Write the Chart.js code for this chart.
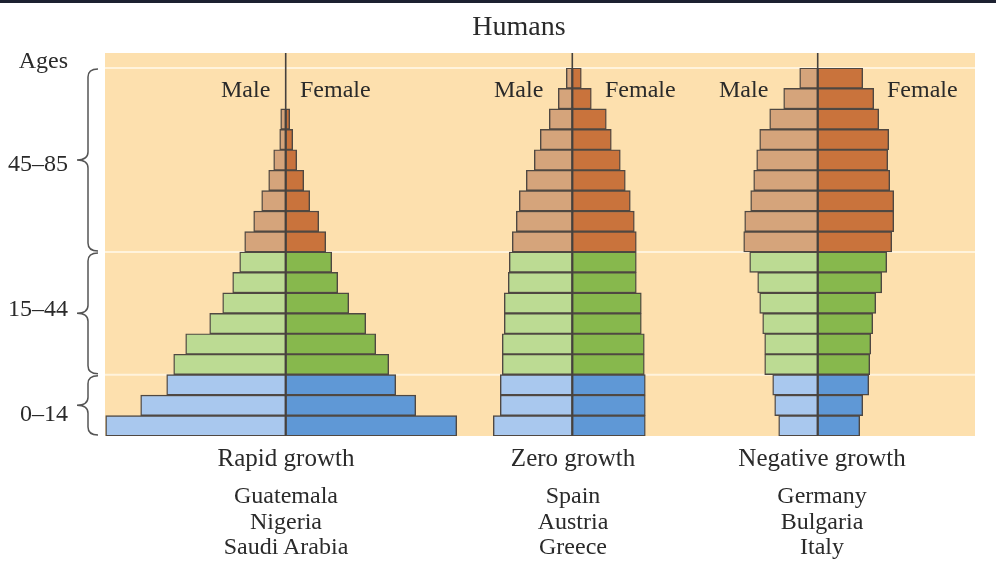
<!DOCTYPE html>
<html>
<head>
<meta charset="utf-8">
<script src="https://cdn.jsdelivr.net/npm/chart.js@4.4.1/dist/chart.umd.min.js"></script>
<style>
  body { margin: 0; background: #fff; }
  #wrap { position: relative; width: 996px; height: 568px; overflow: hidden; font-family: "Liberation Serif", "DejaVu Serif", serif; color: #2a2a2a; }
  #topbar { position: absolute; left: 0; top: 0; width: 996px; height: 3px; background: #1d2131; }
  canvas { position: absolute; left: 0; top: 0; }
  .t { position: absolute; white-space: nowrap; font-size: 24px; line-height: 26px; }
  .c { transform: translateX(-50%); text-align: center; }
  .r { transform: translateX(-100%); text-align: right; }
</style>
</head>
<body>
<div id="wrap">
  <canvas id="chart" width="996" height="568"></canvas>
  <div id="topbar"></div>
  <div id="labels"></div>
</div>
<script>
// вікові групи, знизу догори
const ageGroups = ['0–4', '5–9', '10–14', '15–19', '20–24', '25–29', '30–34', '35–39', '40–44',
  '45–49', '50–54', '55–59', '60–64', '65–69', '70–74', '75–79', '80–84', '85+'];

// ширини смуг (умовні одиниці), рядок 0 = наймолодші
const rapidMale = [180, 145, 119, 112, 100, 76, 63, 53, 46, 41, 32, 24, 17, 12, 6, 5, null, null];
const rapidFemale = [171, 130, 110, 103, 90, 80, 63, 52, 46, 40, 33, 24, 18, 11, 7, 4, null, null];
const zeroMale = [79, 72, 72, 70, 70, 68, 68, 64, 63, 60, 56, 53, 46, 38, 32, 23, 14, 6];
const zeroFemale = [73, 73, 73, 72, 72, 69, 69, 64, 64, 64, 62, 58, 53, 48, 39, 34, 19, 9];
const negMale = [39, 43, 45, 53, 53, 55, 58, 60, 68, 74, 73, 67, 64, 61, 58, 48, 34, 18];
const negFemale = [42, 45, 51, 52, 53, 55, 58, 64, 69, 74, 76, 76, 72, 70, 71, 61, 56, 45];

const pyramidNames = ['Rapid growth', 'Zero growth', 'Negative growth'];
const pyramidCountries = [
  ['Guatemala', 'Nigeria', 'Saudi Arabia'],
  ['Spain', 'Austria', 'Greece'],
  ['Germany', 'Bulgaria', 'Italy'],
];
const bracketLabels = ['0–14', '15–44', '45–85'];
const bracketRows = [[0, 2], [3, 8], [9, 17]];

// розкладка
const plotLeft = 105, plotRight = 975, plotTop = 68, plotBottom = 436;
const centers = [285.7, 572.3, 817.7];
const captionCenters = [286, 573, 822];
const maleLeft = [221, 494, 719];
const femaleLeft = [300, 605, 887];

const maleColors = { young: '#a9c8ee', adult: '#bcdb93', old: '#d5a47b' };
const femaleColors = { young: '#5f98d6', adult: '#87b84d', old: '#c9733c' };

function colorFor(i, pal) {
  if (i < 3) return pal.young;
  if (i < 9) return pal.adult;
  return pal.old;
}

const series = [
  { male: rapidMale, female: rapidFemale },
  { male: zeroMale, female: zeroFemale },
  { male: negMale, female: negFemale },
];

const barStyle = {
  borderColor: '#4f4842',
  borderWidth: 1.4,
  borderSkipped: false,
  grouped: false,
  barPercentage: 1,
  categoryPercentage: 1,
};

const datasets = [];
const scales = {
  y: { type: 'category', labels: ageGroups, reverse: true, display: false, offset: true },
};
series.forEach((s, k) => {
  datasets.push(Object.assign({
    label: 'Male',
    data: s.male.map(v => (v == null ? null : -v)),
    xAxisID: 'x' + k,
    backgroundColor: ageGroups.map((_, i) => colorFor(i, maleColors)),
  }, barStyle));
  datasets.push(Object.assign({
    label: 'Female',
    data: s.female,
    xAxisID: 'x' + k,
    backgroundColor: ageGroups.map((_, i) => colorFor(i, femaleColors)),
  }, barStyle));
  scales['x' + k] = {
    type: 'linear', axis: 'x', position: 'bottom', display: false,
    min: -(centers[k] - plotLeft), max: plotRight - centers[k],
  };
});

function rowEdges(y, i) {
  const p = y.getPixelForValue(i);
  const h = Math.abs(y.getPixelForValue(1) - y.getPixelForValue(0)) / 2;
  return { top: p - h, bottom: p + h };
}

const backdrop = {
  id: 'backdrop',
  beforeDatasetsDraw(chart) {
    const { ctx, chartArea: a } = chart;
    const y = chart.scales.y;
    ctx.save();
    ctx.fillStyle = '#fde0ae';
    ctx.fillRect(a.left, a.top - 15, a.right - a.left, a.bottom - a.top + 15);
    ctx.strokeStyle = '#fff3dc';
    ctx.lineWidth = 2;
    bracketRows.forEach(r => {
      const yy = rowEdges(y, r[1]).top;
      ctx.beginPath();
      ctx.moveTo(a.left, yy);
      ctx.lineTo(a.right, yy);
      ctx.stroke();
    });
    ctx.restore();
  },
  afterDatasetsDraw(chart) {
    const { ctx, chartArea: a } = chart;
    ctx.save();
    ctx.strokeStyle = '#45413d';
    ctx.lineWidth = 1.6;
    series.forEach((_, k) => {
      const x = chart.scales['x' + k].getPixelForValue(0);
      ctx.beginPath();
      ctx.moveTo(x, a.top - 15);
      ctx.lineTo(x, a.bottom);
      ctx.stroke();
    });
    ctx.restore();
  },
  afterDraw(chart) {
    const { ctx } = chart;
    const y = chart.scales.y;
    const xv = 88, xl = 77, xr = 98, c = 8;
    ctx.save();
    ctx.strokeStyle = '#555';
    ctx.lineWidth = 1.5;
    bracketRows.forEach(r => {
      const top = rowEdges(y, r[1]).top + 1;
      const bot = rowEdges(y, r[0]).bottom - 1;
      const mid = (top + bot) / 2;
      ctx.beginPath();
      ctx.moveTo(xr, top);
      ctx.quadraticCurveTo(xv, top, xv, top + c);
      ctx.lineTo(xv, mid - c);
      ctx.quadraticCurveTo(xv, mid, xl, mid);
      ctx.quadraticCurveTo(xv, mid, xv, mid + c);
      ctx.lineTo(xv, bot - c);
      ctx.quadraticCurveTo(xv, bot, xr, bot);
      ctx.stroke();
    });
    ctx.restore();
  },
};

new Chart(document.getElementById('chart'), {
  type: 'bar',
  data: { labels: ageGroups, datasets: datasets },
  options: {
    indexAxis: 'y',
    responsive: false,
    animation: false,
    layout: { padding: { left: plotLeft, right: 996 - plotRight, top: plotTop, bottom: 568 - plotBottom } },
    scales: scales,
    plugins: { legend: { display: false }, tooltip: { enabled: false } },
  },
  plugins: [backdrop],
});

// текстові підписи
const labels = document.getElementById('labels');
function addText(text, x, y, cls, extra) {
  const d = document.createElement('div');
  d.className = 't ' + cls;
  d.textContent = text;
  d.style.left = x + 'px';
  d.style.top = y + 'px';
  if (extra) Object.assign(d.style, extra);
  labels.appendChild(d);
}

addText('Humans', 519, 11, 'c', { fontSize: '28px', lineHeight: '30px' });
addText('Ages', 68, 47, 'r');
const bracketLabelY = [400, 295, 150];
bracketLabels.forEach((t, i) => addText(t, 68, bracketLabelY[i], 'r'));
pyramidNames.forEach((name, k) => {
  addText('Male', maleLeft[k], 76, '');
  addText('Female', femaleLeft[k], 76, '');
  addText(name, captionCenters[k], 445, 'c', { fontSize: '25px' });
  pyramidCountries[k].forEach((c, j) => addText(c, captionCenters[k], 482 + j * 25.5, 'c'));
});
</script>
</body>
</html>
